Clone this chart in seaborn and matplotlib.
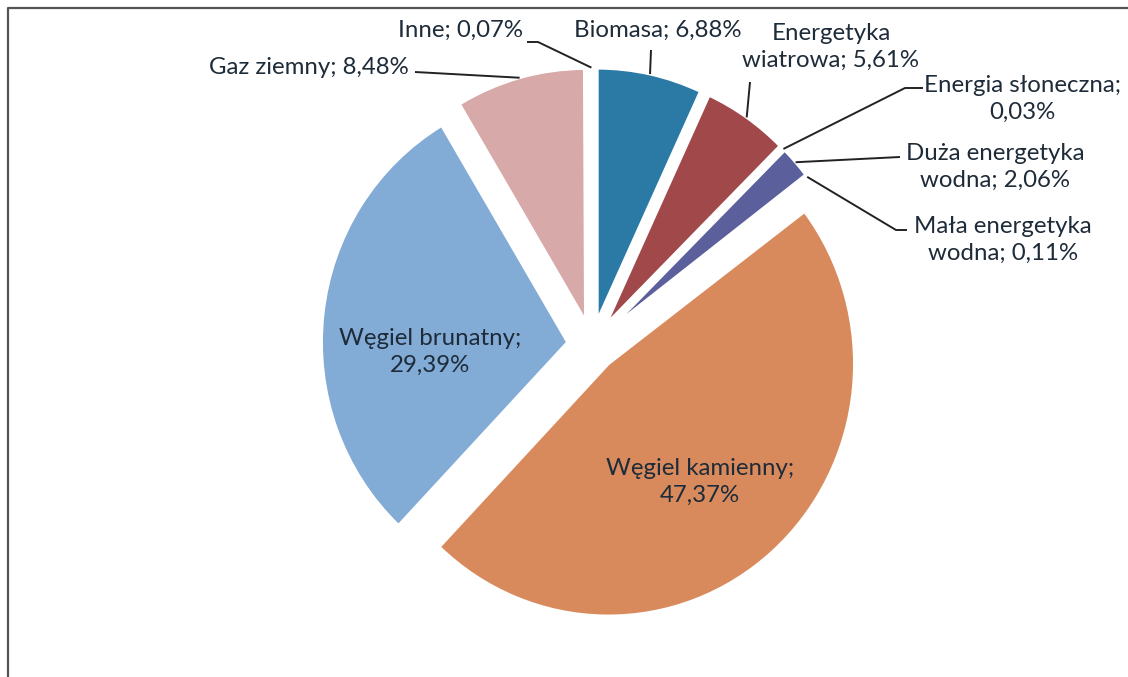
import numpy as np
import matplotlib
matplotlib.use("Agg")
import matplotlib.pyplot as plt
import seaborn as sns

# Data (order: clockwise from 12 o'clock)
sources = ["Biomasa", "Energetyka wiatrowa", "Energia słoneczna",
           "Duża energetyka wodna", "Mała energetyka wodna",
           "Węgiel kamienny", "Węgiel brunatny", "Gaz ziemny", "Inne"]
shares = [6.88, 5.61, 0.03, 2.06, 0.11, 47.37, 29.39, 8.48, 0.07]
label_text = ["Biomasa; 6,88%", "Energetyka\nwiatrowa; 5,61%",
              "Energia słoneczna;\n0,03%", "Duża energetyka\nwodna; 2,06%",
              "Mała energetyka\nwodna; 0,11%", "Węgiel kamienny;\n47,37%",
              "Węgiel brunatny;\n29,39%", "Gaz ziemny; 8,48%", "Inne; 0,07%"]
colors = ["#2b7aa6", "#a0484a", "#c9a45c", "#5b5f9c", "#6f9fc9",
          "#d98a5d", "#82abd6", "#d7a9a8", "#b0b0b0"]

sns.set_theme(style="white")
plt.rcParams["font.family"] = ["Lato", "DejaVu Sans"]

W, H = 1128, 677
SY = 1.025  # the scanned pie is a little taller than wide
fig = plt.figure(figsize=(W / 100, H / 100), dpi=100)
ax = fig.add_axes([0, 0, 1, 1])
over = fig.add_axes([0, 0, 1, 1])  # pixel overlay for labels and lines

R = 246
cx, cy = 592, (H - 345) / SY
wedges, _ = ax.pie(shares, colors=colors, startangle=90, counterclock=False,
                   radius=R, center=(cx, cy), explode=np.full(len(shares), 0.1 * R),
                   wedgeprops=dict(edgecolor="white", linewidth=2))
ax.set_xlim(0, W)
ax.set_ylim(0, H / SY)
ax.set_aspect("auto")
ax.axis("off")

over.set_xlim(0, W)
over.set_ylim(0, H)
over.axis("off")
over.patch.set_alpha(0)

txt = "#1e2b38"
fs = 17.3
ls = 1.37


def anchor(i):
    w = wedges[i]
    t = np.deg2rad((w.theta1 + w.theta2) / 2)
    return w.center[0] + w.r * np.cos(t), (w.center[1] + w.r * np.sin(t)) * SY


def leader(i, pts):
    ax_, ay_ = anchor(i)
    xs = [p[0] for p in pts] + [ax_]
    ys = [H - p[1] for p in pts] + [ay_]
    over.plot(xs, ys, color="#222222", lw=1.4, solid_capstyle="butt")


# outside labels: (text centre, leader path in image px)
outside = {
    8: ((460, 30), [(527, 42), (538, 42)]),
    0: ((658, 30), [(651, 50)]),
    1: ((831, 47), [(750, 82)]),
    2: ((1022, 99), [(923, 88), (905, 88)]),
    3: ((995, 167), [(900, 157)]),
    4: ((1003, 240), [(907, 230), (896, 230)]),
    7: ((309, 67), [(415, 72)]),
}
for i, (pos, path) in outside.items():
    over.text(pos[0], H - pos[1], label_text[i], ha="center", va="center",
              fontsize=fs, color=txt, linespacing=ls)
    leader(i, path)

# inside labels
over.text(430, H - 352, label_text[6], ha="center", va="center", fontsize=fs,
          color=txt, linespacing=ls)
over.text(700, H - 482, label_text[5], ha="center", va="center", fontsize=fs,
          color=txt, linespacing=ls)

# frame of the chart area
over.plot([8, 8, W], [0, H - 8, H - 8], color="#555555", lw=1.6)

fig.savefig("out.png", dpi=100)
